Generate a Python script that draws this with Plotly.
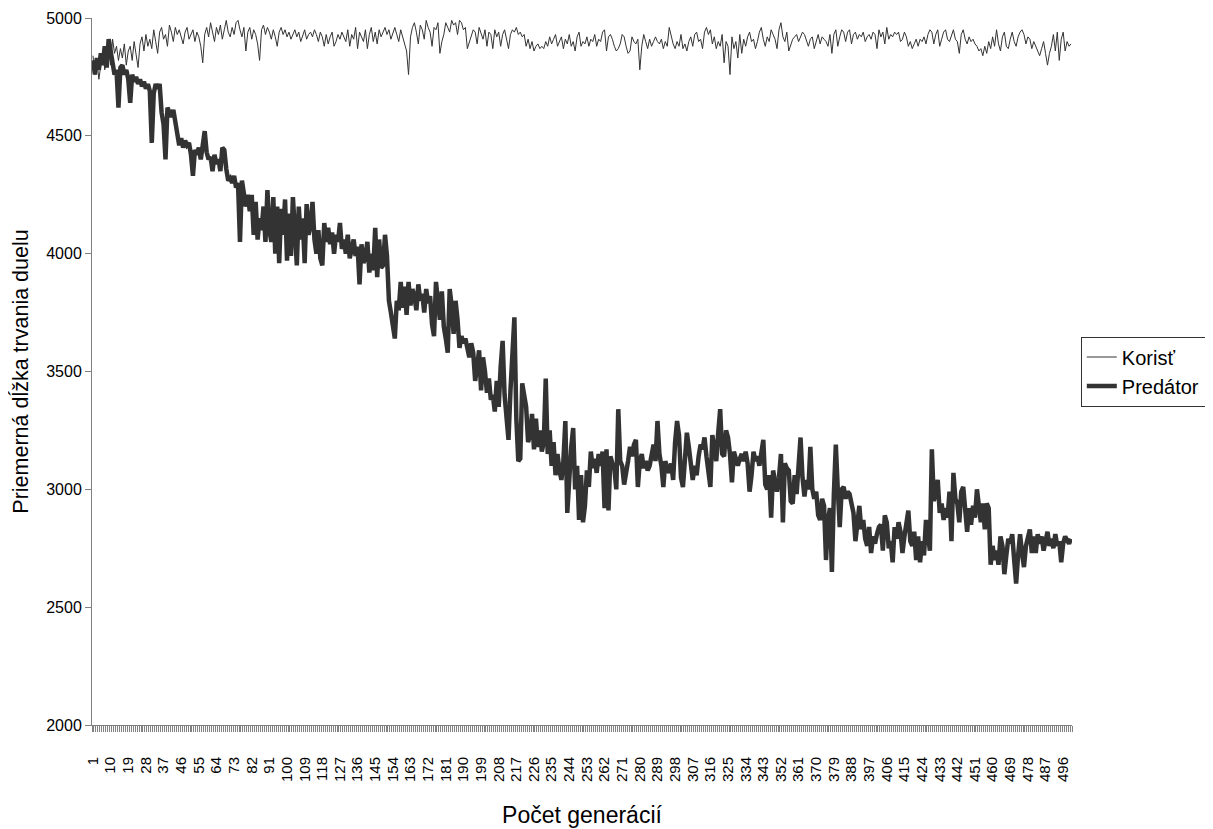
import plotly.graph_objects as go

generations = list(range(1, 501))
tick_labels = list(range(1, 501, 9))

korist = [
    4840, 4760, 4820, 4740, 4800, 4860, 4780, 4830, 4880, 4800,
    4910, 4850, 4880, 4820, 4870, 4830, 4890, 4800, 4860, 4880,
    4820, 4900, 4850, 4790, 4890, 4920, 4860, 4930, 4880, 4910,
    4870, 4950, 4900, 4850, 4940, 4960, 4910, 4930, 4880, 4970,
    4940, 4900, 4960, 4930, 4950, 4920, 4890, 4940, 4960, 4910,
    4930, 4950, 4900, 4940, 4920, 4880, 4810, 4930, 4960, 4920,
    4980, 4940, 4900, 4960, 4930, 4970, 4910, 4950, 4990, 4940,
    4920, 4960, 4930, 4980, 4990, 4950, 4920, 4960, 4860, 4940,
    4960, 4910, 4950, 4930, 4890, 4820, 4950, 4970, 4930, 4960,
    4940, 4910, 4950, 4920, 4880, 4940, 4960, 4930, 4950, 4920,
    4940, 4910, 4930, 4950, 4920, 4940, 4900, 4930, 4950, 4910,
    4930, 4940, 4920, 4950, 4930, 4900, 4940, 4920, 4880, 4930,
    4890, 4920, 4940, 4880, 4900, 4930, 4910, 4940, 4920, 4900,
    4950, 4880, 4930, 4910, 4960, 4870, 4940, 4920, 4900, 4950,
    4870, 4930, 4960, 4900, 4940, 4890, 4950, 4920, 4940, 4960,
    4930, 4950, 4910, 4940, 4960, 4930, 4900, 4950, 4920, 4890,
    4860, 4760, 4920, 4960, 4980, 4940, 4890, 4970, 4950, 4910,
    4990, 4960, 4940, 4880, 4960, 4950, 4980, 4850, 4900, 4930,
    4980, 4960, 4940, 4990, 4970, 4980, 4930, 4990, 4980, 4950,
    4960, 4870, 4900, 4920, 4950, 4940, 4890, 4960, 4930, 4910,
    4950, 4880, 4940, 4930, 4870, 4950, 4920, 4940, 4880, 4930,
    4950, 4910, 4870, 4930, 4950, 4940, 4960, 4930, 4940, 4920,
    4930, 4880, 4910, 4870, 4900, 4860, 4880, 4890, 4870, 4880,
    4870, 4900, 4880, 4920, 4890, 4910, 4930, 4880, 4900, 4920,
    4870, 4910, 4890, 4930, 4880, 4900, 4860, 4920, 4940, 4880,
    4900, 4890, 4920, 4880, 4910, 4900, 4930, 4880, 4910, 4900,
    4940, 4950, 4860, 4920, 4930, 4910, 4880, 4860, 4870, 4890,
    4930, 4920, 4880, 4850, 4860, 4920, 4900, 4890, 4910, 4780,
    4880, 4930, 4900, 4870, 4910, 4880, 4900, 4920, 4900, 4890,
    4910, 4870, 4900, 4880, 4960, 4920, 4890, 4870, 4900, 4880,
    4930, 4870, 4890, 4860, 4900, 4920, 4880, 4930, 4940, 4900,
    4910, 4870, 4940, 4960, 4930, 4950, 4890, 4920, 4870, 4900,
    4880, 4930, 4810, 4900, 4880, 4760, 4920, 4870, 4900, 4830,
    4930, 4850, 4910, 4880, 4920, 4940, 4900, 4910, 4870, 4900,
    4940, 4960, 4910, 4880, 4920, 4900, 4950, 4930, 4910, 4870,
    4950, 4980, 4920, 4900, 4940, 4860, 4890, 4910, 4920, 4930,
    4900, 4920, 4940, 4930, 4900, 4880, 4910, 4920, 4870, 4900,
    4930, 4890, 4920, 4910, 4900, 4880, 4930, 4850, 4930, 4950,
    4880, 4920, 4950, 4940, 4900, 4940, 4950, 4890, 4930, 4940,
    4910, 4930, 4920, 4940, 4900, 4920, 4930, 4910, 4940, 4930,
    4870, 4950, 4920, 4940, 4890, 4960, 4910, 4930, 4920, 4940,
    4930, 4940, 4900, 4910, 4940, 4920, 4880, 4900, 4870, 4890,
    4910, 4880, 4910, 4900, 4920, 4890, 4930, 4950, 4940, 4890,
    4930, 4950, 4880, 4910, 4940, 4950, 4910, 4900, 4930, 4950,
    4910, 4900, 4850, 4930, 4950, 4910, 4890, 4920, 4900, 4910,
    4890, 4880, 4860, 4870, 4840, 4880, 4850, 4900, 4870, 4920,
    4880, 4950, 4890, 4860, 4920, 4940, 4880, 4870, 4910, 4940,
    4900, 4880, 4920, 4940, 4950, 4930, 4890, 4920, 4910, 4870,
    4900, 4880, 4860, 4840, 4870, 4900, 4850, 4800, 4850, 4880,
    4930, 4860, 4940, 4820, 4910, 4940, 4860, 4900, 4880, 4890,
]

predator = [
    4820, 4760, 4830, 4780, 4850, 4800, 4880, 4790, 4910, 4850,
    4800, 4760, 4780, 4620, 4790, 4800, 4760, 4780, 4740, 4640,
    4760, 4730, 4750, 4720, 4740, 4710, 4730, 4700, 4720, 4690,
    4470, 4680, 4720, 4700, 4720, 4600, 4550, 4400, 4620, 4600,
    4580, 4610, 4560, 4500, 4460, 4490, 4450, 4480, 4460, 4470,
    4420, 4330, 4440, 4420, 4450, 4400, 4460, 4520, 4430, 4400,
    4410, 4350, 4420, 4380, 4400, 4350, 4450, 4440, 4360, 4310,
    4320, 4300, 4330, 4280, 4300, 4050, 4310, 4260, 4200, 4250,
    4180, 4250, 4080, 4220, 4060, 4150, 4100, 4200, 4050, 4270,
    4100, 4050, 4240, 4000, 4200, 3960, 4190, 4080, 4230, 3970,
    4170, 3990, 4240, 4100, 3950, 4200, 4060, 4150, 3960, 4210,
    4080, 4120, 4220, 4060, 4000, 4100, 3980, 3950, 4130, 4050,
    4110, 4040, 4090, 4000, 4080, 4050, 4130, 4020, 4060, 4000,
    4080, 3980, 4020, 4060, 3990, 4030, 3870, 4040, 3960, 3990,
    4050, 3920, 4000, 3930, 4110, 3900, 4060, 3940, 3950, 4080,
    3990, 3800, 3750, 3700, 3640, 3800, 3760, 3880, 3770, 3860,
    3740, 3880, 3780, 3850, 3820, 3760, 3870, 3800, 3830, 3750,
    3850, 3790, 3820, 3700, 3650, 3880, 3800, 3720, 3840, 3690,
    3640, 3580, 3850, 3780, 3660, 3800, 3720, 3600, 3650, 3620,
    3640, 3600, 3560, 3620, 3580, 3460, 3540, 3590, 3420, 3560,
    3500, 3410, 3470, 3380, 3400, 3330, 3460, 3350, 3520, 3630,
    3400, 3300, 3210, 3420, 3600, 3730, 3300, 3120, 3130, 3450,
    3400, 3350, 3200, 3230, 3320, 3170, 3300, 3180, 3250, 3160,
    3200, 3470, 3150, 3250, 3100, 3200, 3060, 3150, 3080, 3040,
    3120, 3290, 2900, 3050, 3180, 3260, 3000, 3100, 2870, 3060,
    2860, 2930, 3080, 3010, 3160, 3090, 3130, 3070, 3150, 3100,
    3160, 2920, 3170, 2910, 3140, 3110, 3090, 3000, 3340, 3120,
    3100, 3020, 3060, 3120, 3180, 3140, 3190, 3210, 3010, 3120,
    3150, 3090, 3120, 3080, 3100, 3150, 3190, 3120, 3290, 3150,
    3100, 3010, 3120, 3090, 3070, 3110, 3040, 3200, 3290, 3230,
    3050, 3010, 3120, 3240, 3180, 3100, 3040, 3100, 3060, 3140,
    3190, 3170, 3220, 3140, 3080, 3010, 3230, 3180, 3120, 3240,
    3340, 3150, 3140, 3250, 3220, 3150, 3030, 3160, 3120, 3100,
    3130, 3150, 3120, 3160, 3110, 2990, 3060, 3160, 3120, 3140,
    3100, 3150, 3210, 3020, 3000, 3060, 2880, 3080, 3030, 2990,
    3050, 3150, 2860, 3110, 3090, 3080, 2950, 2940, 3060, 2980,
    3100, 3220, 3050, 2970, 3040, 3000, 3180, 3000, 2960, 2990,
    2890, 2870, 2960, 2930, 2700, 2870, 2920, 2650, 2980, 3190,
    3000, 2840, 3000, 3010, 2960, 2990, 2980, 2940, 2900, 2780,
    2860, 2930, 2830, 2870, 2790, 2760, 2840, 2730, 2800, 2770,
    2810, 2840, 2850, 2740, 2890, 2860, 2750, 2780, 2690, 2840,
    2790, 2860, 2820, 2730, 2800, 2850, 2910, 2780, 2760, 2820,
    2700, 2800, 2690, 2780, 2720, 2870, 2810, 2740, 3170, 2950,
    2990, 3040, 2900, 2940, 2870, 2920, 2880, 2990, 2780, 3070,
    2960, 2940, 2860, 2990, 3010, 2900, 2820, 2920, 2850, 2930,
    2880, 3000, 2910, 2860, 2940, 2830, 2940, 2920, 2680, 2760,
    2700, 2740, 2680, 2800, 2760, 2640, 2720, 2790, 2770, 2810,
    2700, 2600, 2720, 2810, 2730, 2670, 2760, 2790, 2830, 2730,
    2800, 2730, 2810, 2770, 2800, 2740, 2780, 2820, 2760, 2790,
    2750, 2810, 2760, 2780, 2690, 2770, 2800, 2780, 2770, 2790,
]

FONT = "Liberation Sans, Arial, sans-serif"

fig = go.Figure()
fig.add_trace(go.Scatter(x=generations, y=korist, mode="lines", name="Korisť",
                         line=dict(color="#333333", width=1)))
fig.add_trace(go.Scatter(x=generations, y=predator, mode="lines", name="Predátor",
                         line=dict(color="#333333", width=4.5)))

# page body adds an 8px offset, so the figure is sized 1205x821
fig.update_layout(
    width=1205, height=821,
    margin=dict(l=84, r=141, t=10, b=104, autoexpand=False),
    paper_bgcolor="white", plot_bgcolor="white",
    font=dict(family=FONT, color="black"),
    showlegend=True,
    legend=dict(x=1.009, y=0.5, xanchor="left", yanchor="middle",
                bordercolor="#333333", borderwidth=1, bgcolor="white",
                font=dict(size=20, family=FONT), tracegroupgap=0, itemwidth=30),
    xaxis=dict(
        range=[0.5, 500.5], showgrid=False, zeroline=False, automargin=False,
        showline=True, linecolor="#808080", linewidth=1,
        tickmode="array", tickvals=tick_labels, ticktext=[str(v) for v in tick_labels],
        tickangle=-90, ticks="", tickfont=dict(size=15, family=FONT),
        ticklabelstandoff=25,
        minor=dict(tick0=0.5, dtick=1, ticks="outside", ticklen=6,
                   tickcolor="#808080", tickwidth=1, showgrid=False),
        title=dict(text="Počet generácií", font=dict(size=23, family=FONT), standoff=25),
    ),
    yaxis=dict(
        range=[2000, 5000], dtick=500, showgrid=False, zeroline=False, automargin=False,
        showline=True, linecolor="#808080", linewidth=1,
        ticks="outside", ticklen=6, tickcolor="#808080",
        tickfont=dict(size=16, family=FONT),
        title=dict(text="Priemerná dĺžka trvania duelu", font=dict(size=21.5, family=FONT), standoff=14),
    ),
)

fig.write_html("out.html")
